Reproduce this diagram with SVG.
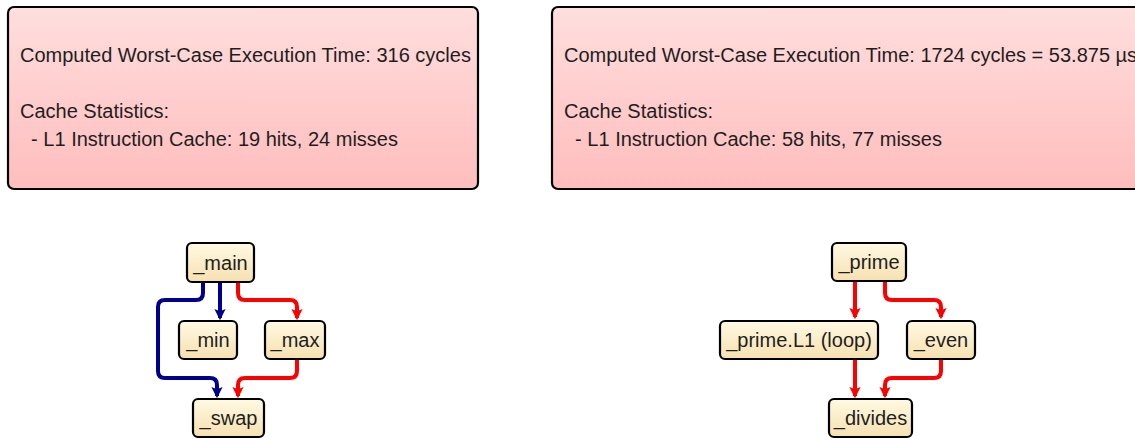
<svg xmlns="http://www.w3.org/2000/svg" width="1135" height="439" viewBox="0 0 1135 439">
  <defs>
    <linearGradient id="gPanel" x1="0" y1="0" x2="0" y2="1">
      <stop offset="0" stop-color="#ffdede"/>
      <stop offset="1" stop-color="#ffbdbd"/>
    </linearGradient>
    <linearGradient id="gNode" x1="0" y1="0" x2="0" y2="1">
      <stop offset="0" stop-color="#fffae3"/>
      <stop offset="1" stop-color="#f6e0b0"/>
    </linearGradient>
    <marker id="arrowBlue" viewBox="0 0 10 10" refX="8" refY="5" markerWidth="2.8" markerHeight="2.8" orient="auto" markerUnits="strokeWidth">
      <path d="M0,0 L10,5 L0,10 L2,5 z" fill="#00008f"/>
    </marker>
    <marker id="arrowRed" viewBox="0 0 10 10" refX="8" refY="5" markerWidth="2.8" markerHeight="2.8" orient="auto" markerUnits="strokeWidth">
      <path d="M0,0 L10,5 L0,10 L2,5 z" fill="#ff0000"/>
    </marker>
  </defs>
  <style>
    .panel { fill: url(#gPanel); stroke: #000; stroke-width: 2.2; }
    .panel-text { font-family: "Liberation Sans", Arial, sans-serif; font-size: 20px; fill: #1e1e1e; }
    .node rect { fill: url(#gNode); stroke: #000; stroke-width: 2.2; }
    .node text { font-family: "Liberation Sans", Arial, sans-serif; font-size: 20px; fill: #1e1e1e; text-anchor: middle; }
    .edge { fill: none; stroke-width: 4; stroke-linejoin: round; }
    .blue { stroke: #00008f; marker-end: url(#arrowBlue); }
    .red { stroke: #ff0000; marker-end: url(#arrowRed); }
  </style>

  <!-- summary panels -->
  <g id="summary-left">
    <rect class="panel" x="8" y="7" width="470" height="182" rx="6" ry="6"/>
    <text class="panel-text" x="20" y="62">Computed Worst-Case Execution Time: 316 cycles</text>
    <text class="panel-text" x="20" y="118">Cache Statistics:</text>
    <text class="panel-text" x="20" y="146" xml:space="preserve">  - L1 Instruction Cache: 19 hits, 24 misses</text>
  </g>
  <g id="summary-right">
    <rect class="panel" x="552" y="7" width="600" height="182" rx="6" ry="6"/>
    <text class="panel-text" x="564" y="62">Computed Worst-Case Execution Time: 1724 cycles = 53.875 µs</text>
    <text class="panel-text" x="564" y="118">Cache Statistics:</text>
    <text class="panel-text" x="564" y="146" xml:space="preserve">  - L1 Instruction Cache: 58 hits, 77 misses</text>
  </g>

  <!-- connectors -->
  <g id="connectors">
    <path class="edge blue" d="M220,282 L220,318"/>
    <path class="edge blue" d="M203,282 L203,293 Q203,300 196,300 L165,300 Q158,300 158,307 L158,371 Q158,378 165,378 L210,378 Q217,378 217,385 L217,396"/>
    <path class="edge red" d="M238,282 L238,293 Q238,300 245,300 L290,300 Q297,300 297,307 L297,318"/>
    <path class="edge red" d="M297,359 L297,371 Q297,378 290,378 L245,378 Q238,378 238,385 L238,396"/>

    <path class="edge red" d="M855,281 L855,317"/>
    <path class="edge red" d="M885,281 L885,293 Q885,300 892,300 L934,300 Q941,300 941,307 L941,317"/>
    <path class="edge red" d="M855,359 L855,396"/>
    <path class="edge red" d="M941,359 L941,371 Q941,378 934,378 L892,378 Q885,378 885,385 L885,396"/>
  </g>

  <!-- call graph of the first program -->
  <g id="n-main" class="node">
    <rect x="187" y="243" width="67" height="39" rx="5" ry="5"/>
    <text x="220.5" y="269.5">_main</text>
  </g>
  <g id="n-min" class="node">
    <rect x="179" y="321" width="58" height="38" rx="5" ry="5"/>
    <text x="208" y="347">_min</text>
  </g>
  <g id="n-max" class="node">
    <rect x="265" y="321" width="60" height="38" rx="5" ry="5"/>
    <text x="295" y="347">_max</text>
  </g>
  <g id="n-swap" class="node">
    <rect x="193" y="399" width="71" height="38" rx="5" ry="5"/>
    <text x="228.5" y="425">_swap</text>
  </g>

  <!-- call graph of the second program -->
  <g id="n-prime" class="node">
    <rect x="832" y="243" width="74" height="38" rx="5" ry="5"/>
    <text x="869" y="269">_prime</text>
  </g>
  <g id="n-prime-loop" class="node">
    <rect x="720" y="321" width="158" height="38" rx="5" ry="5"/>
    <text x="799" y="347">_prime.L1 (loop)</text>
  </g>
  <g id="n-even" class="node">
    <rect x="907" y="321" width="68" height="38" rx="5" ry="5"/>
    <text x="941" y="347">_even</text>
  </g>
  <g id="n-divides" class="node">
    <rect x="829" y="399" width="83" height="38" rx="5" ry="5"/>
    <text x="870.5" y="425">_divides</text>
  </g>
</svg>
